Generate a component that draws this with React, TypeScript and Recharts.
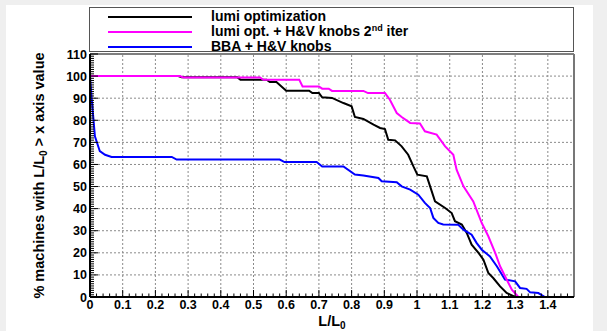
import React from 'react';
import { Line, LineChart, ReferenceLine, XAxis, YAxis } from 'recharts';

// fraction of machines above a given L/L0
const lumiX = [0, 0.27, 0.28, 0.45, 0.46, 0.54, 0.55, 0.57, 0.6, 0.67, 0.68, 0.7, 0.71, 0.74, 0.775, 0.8, 0.81, 0.836, 0.867, 0.887, 0.902, 0.912, 0.933, 0.953, 0.973, 0.989, 1.001, 1.03, 1.04, 1.055, 1.086, 1.106, 1.116, 1.137, 1.152, 1.167, 1.188, 1.203, 1.218, 1.233, 1.254, 1.274, 1.3];
const lumiY = [100, 100, 99.5, 99.5, 98.4, 98.4, 97.3, 97.3, 93.4, 93.4, 92.3, 92.3, 90.4, 90.1, 87.8, 86.3, 81.5, 80.6, 78, 76.5, 76, 71.2, 70.9, 68.2, 64.4, 59.1, 55.4, 54.6, 50.1, 43.3, 40.3, 38, 34.3, 32.8, 29, 23.7, 20, 16.9, 10.9, 8.6, 4.8, 1.8, 0];

const knobsX = [0, 0.275, 0.285, 0.52, 0.53, 0.64, 0.65, 0.7, 0.71, 0.73, 0.74, 0.836, 0.85, 0.902, 0.917, 0.938, 0.953, 0.979, 1.009, 1.024, 1.06, 1.086, 1.111, 1.121, 1.142, 1.172, 1.198, 1.218, 1.239, 1.254, 1.274, 1.29, 1.31, 1.385];
const knobsY = [100, 100, 99.4, 99.4, 98.3, 98.3, 95.3, 95.3, 94.3, 94.3, 93.3, 93.3, 92.3, 92.3, 89.3, 83.3, 81.5, 78.8, 78.5, 75, 73.5, 68.2, 64.4, 57.6, 50.1, 43.3, 33.5, 27.5, 20, 13.9, 7.9, 3.3, 0, 0];

const bbaX = [0, 0.005, 0.015, 0.03, 0.046, 0.066, 0.25, 0.265, 0.58, 0.595, 0.693, 0.71, 0.775, 0.81, 0.836, 0.882, 0.892, 0.938, 0.953, 0.979, 1.004, 1.024, 1.04, 1.05, 1.065, 1.08, 1.126, 1.142, 1.167, 1.182, 1.198, 1.223, 1.244, 1.269, 1.3, 1.315, 1.335, 1.346, 1.371, 1.391];
const bbaY = [100, 90, 72.7, 66, 64.4, 63.4, 63.4, 62.2, 62.2, 61.1, 61.1, 59.1, 59.1, 55.4, 55, 53.9, 52.4, 52, 50.1, 48.6, 46.3, 42.6, 40.3, 35.8, 33.5, 32.8, 32.7, 30.5, 28.2, 24.5, 21.4, 18.4, 13.9, 7.9, 7.1, 4.1, 3.7, 2.1, 1.8, 0];

const xMajorTicks = [0, 0.1, 0.2, 0.3, 0.4, 0.5, 0.6, 0.7, 0.8, 0.9, 1, 1.1, 1.2, 1.3, 1.4];
const yMajorTicks = [0, 10, 20, 30, 40, 50, 60, 70, 80, 90, 100, 110];
const X_MAX = 1.48;
const Y_MAX = 110;

const FONT = '"Liberation Sans", Arial, Helvetica, sans-serif';

const pts = (xs: number[], ys: number[]) => xs.map((x, i) => ({ x, y: ys[i] }));

// legend order
const series = [
  { key: 'lumi', color: '#000000', data: pts(lumiX, lumiY) },
  { key: 'knobs', color: '#ff00ff', data: pts(knobsX, knobsY) },
  { key: 'bba', color: '#0000ff', data: pts(bbaX, bbaY) },
];

// minor ticks: 5 divisions in x, 10 in y
const xTicks: number[] = [];
for (const m of xMajorTicks) {
  for (let k = 0; k < 5; k++) {
    const v = Math.round((m + k * 0.02) * 100) / 100;
    if (v < X_MAX) xTicks.push(v);
  }
}
const yTicks: number[] = [];
for (const m of yMajorTicks) {
  for (let k = 0; k < 10; k++) {
    const v = m + k;
    if (v <= Y_MAX) yTicks.push(v);
  }
}

const isMajorX = (v: number) => Math.abs(v * 10 - Math.round(v * 10)) < 1e-6;

function XTick(props: any) {
  const { x, y, payload } = props;
  const v = payload.value as number;
  const major = isMajorX(v);
  return (
    <g>
      <line x1={x} x2={x} y1={y} y2={y - (major ? 7 : 3.5)} stroke="#000" strokeWidth={1} />
      {major && (
        <text x={x} y={y + 12} textAnchor="middle" fontFamily={FONT} fontWeight="bold" fontSize={12.5} fill="#000">
          {String(Math.round(v * 10) / 10)}
        </text>
      )}
    </g>
  );
}

function YTick(props: any) {
  const { x, y, payload } = props;
  const v = payload.value as number;
  const major = v % 10 === 0;
  return (
    <g>
      <line x1={x} x2={x + (major ? 8 : 4)} y1={y} y2={y} stroke="#000" strokeWidth={1} />
      {major && (
        <text x={x - 3} y={y + 4.5} textAnchor="end" fontFamily={FONT} fontWeight="bold" fontSize={12.5} fill="#000">
          {v}
        </text>
      )}
    </g>
  );
}

function YTitle(props: any) {
  const vb = props.viewBox;
  const cx = vb.x + 4;
  const cy = vb.y + vb.height / 2;
  return (
    <text
      x={cx}
      y={cy}
      transform={`rotate(-90 ${cx} ${cy})`}
      textAnchor="middle"
      fontFamily={FONT}
      fontWeight="bold"
      fontSize={14.5}
      fill="#000"
    >
      % machines with L/L<tspan fontSize={10} dy={3}>0</tspan>
      <tspan dy={-3}> &gt; x axis value</tspan>
    </text>
  );
}

function XTitle(props: any) {
  const vb = props.viewBox;
  return (
    <text x={vb.x + vb.width / 2} y={vb.y + 29} textAnchor="middle" fontFamily={FONT} fontWeight="bold" fontSize={14.5} fill="#000">
      L/L<tspan fontSize={10} dy={3}>0</tspan>
    </text>
  );
}

const legendItems = [
  { color: '#000000', label: <>lumi optimization</> },
  { color: '#ff00ff', label: <>lumi opt. + H&amp;V knobs 2<sup style={{ fontSize: 9, verticalAlign: 5, lineHeight: 0 }}>nd</sup> iter</> },
  { color: '#0000ff', label: <>BBA + H&amp;V knobs</> },
];

export default function App() {
  return (
    <div style={{ position: 'fixed', left: 0, top: 0, width: 607, height: 331, background: '#efefef', overflow: 'hidden' }}>
      <div style={{ position: 'absolute', left: 6, top: 5, width: 587, height: 326, background: '#fff' }} />
      <div style={{ position: 'absolute', left: 0, top: 0 }}>
        <LineChart width={607} height={331} data={series[0].data} margin={{ top: 54, right: 33, bottom: 14, left: 40 }}>
          <XAxis
            dataKey="x"
            type="number"
            domain={[0, X_MAX]}
            ticks={xTicks}
            interval={0}
            allowDataOverflow
            height={20}
            tickSize={0}
            tickMargin={0}
            tickLine={false}
            axisLine={{ stroke: '#000', strokeWidth: 2 }}
            tick={<XTick />}
            label={<XTitle />}
          />
          <YAxis
            dataKey="y"
            type="number"
            domain={[0, Y_MAX]}
            ticks={yTicks}
            interval={0}
            allowDataOverflow
            width={50}
            tickSize={0}
            tickMargin={0}
            tickLine={false}
            axisLine={{ stroke: '#000', strokeWidth: 2 }}
            tick={<YTick />}
            label={<YTitle />}
          />
          {xMajorTicks.slice(1).map((v) => (
            <ReferenceLine key={`gx${v}`} x={v} stroke="#8a8a8a" strokeDasharray="2 2" strokeWidth={1} />
          ))}
          {yMajorTicks.slice(1, -1).map((v) => (
            <ReferenceLine key={`gy${v}`} y={v} stroke="#8a8a8a" strokeDasharray="2 2" strokeWidth={1} />
          ))}
          <ReferenceLine y={Y_MAX} stroke="#555" strokeWidth={1.5} />
          <ReferenceLine x={X_MAX} stroke="#777" strokeWidth={2} />
          <Line data={series[0].data} dataKey="y" stroke={series[0].color} strokeWidth={2} dot={false} isAnimationActive={false} type="linear" />
          <Line data={series[2].data} dataKey="y" stroke={series[2].color} strokeWidth={2} dot={false} isAnimationActive={false} type="linear" />
          <Line data={series[1].data} dataKey="y" stroke={series[1].color} strokeWidth={2} dot={false} isAnimationActive={false} type="linear" />
        </LineChart>
      </div>
      <div
        style={{
          position: 'absolute',
          left: 89,
          top: 7,
          width: 485,
          height: 45,
          border: '1.5px solid #555',
          background: '#fff',
          boxSizing: 'border-box',
          fontFamily: FONT,
          fontWeight: 'bold',
          fontSize: 14,
          color: '#000',
        }}
      >
        {legendItems.map((it, i) => (
          <div key={i} style={{ position: 'absolute', left: 0, top: 1 + i * 15, height: 15, width: '100%' }}>
            <div style={{ position: 'absolute', left: 18, top: 7, width: 84, height: 2, background: it.color }} />
            <div style={{ position: 'absolute', left: 121, top: 0, height: 15, lineHeight: '15px', whiteSpace: 'nowrap' }}>{it.label}</div>
          </div>
        ))}
      </div>
    </div>
  );
}
